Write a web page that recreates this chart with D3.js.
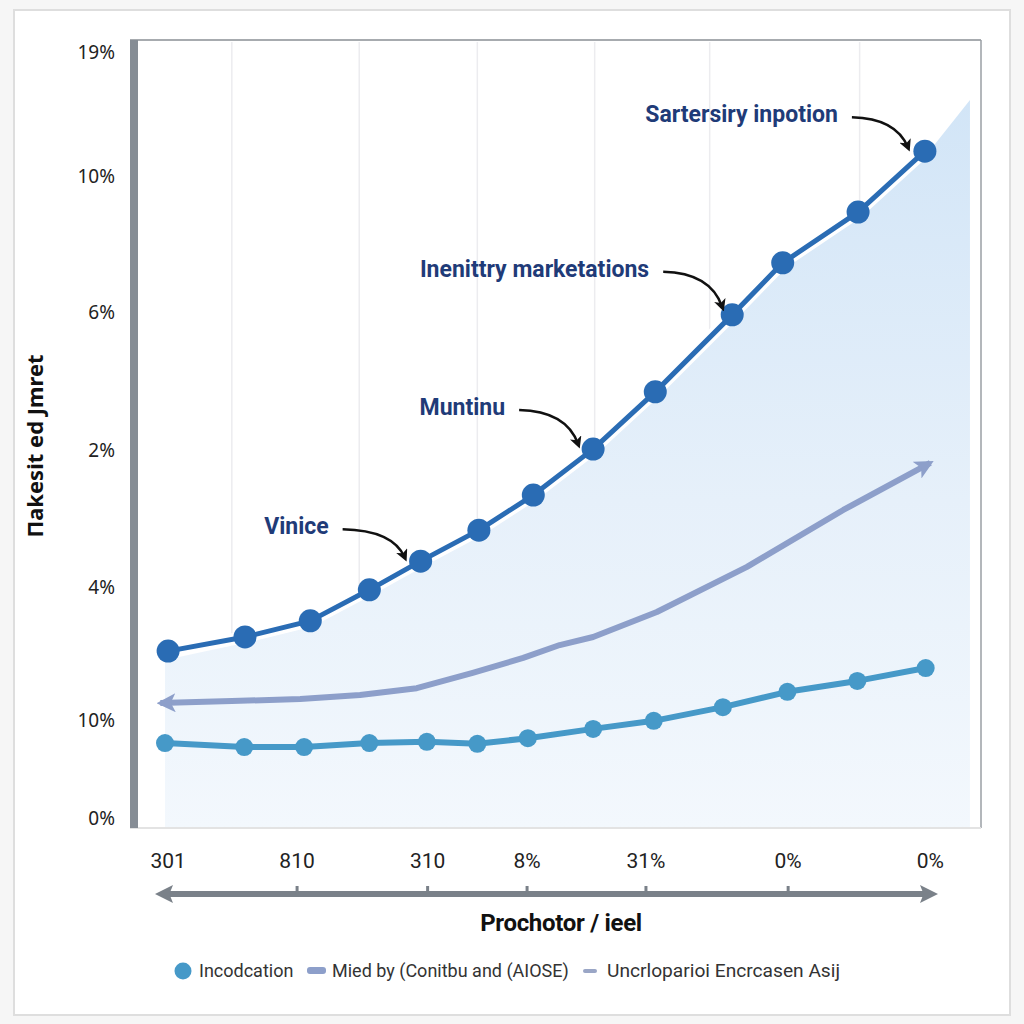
<!DOCTYPE html>
<html>
<head>
<meta charset="utf-8">
<script src="https://cdn.jsdelivr.net/npm/d3@7"></script>
<style>
  html, body { margin: 0; padding: 0; background: #f6f6f6; }
  svg { display: block; }
</style>
</head>
<body>
<svg id="chart" width="1024" height="1024"></svg>
<script>
// ---------- DATA ----------
const yTickValues = [0, 2.43, 5.73, 9.13, 12.55, 15.92, 19];
const yTickLabels = ["0%", "10%", "4%", "2%", "6%", "10%", "19%"];

const xTickValues = [1.3, 17.9, 34.7, 47.5, 62.8, 81.1, 99.4];
const xTickLabels = ["301", "810", "310", "8%", "31%", "0%", "0%"];
const xTickMarks  = [17.9, 34.7, 47.5, 62.8, 81.1];
const gridX = [9.5, 25.9, 41.1, 56.2, 71.0, 90.3];

// main series (dark blue, markers)
const mainX = [1.3, 11.2, 19.6, 27.2, 33.8, 41.3, 48.3, 56.0, 64.0, 73.9, 80.4, 90.1, 98.7];
const mainY = [4.14, 4.49, 4.89, 5.66, 6.37, 7.14, 8.01, 9.15, 10.57, 12.48, 13.77, 15.03, 16.54];
// shaded area under the main series
const areaX = [0.9, 11.2, 19.6, 27.2, 33.8, 41.3, 48.3, 56.0, 64.0, 73.9, 80.4, 90.1, 98.7, 104.5];
const areaY = [3.92, 4.35, 4.75, 5.52, 6.23, 7.0, 7.87, 9.01, 10.43, 12.34, 13.63, 14.89, 16.4, 17.81];

// second series (lavender arrow line)
const midX = [0.3, 9.5, 18.3, 26.0, 33.3, 40.5, 47.0, 51.7, 56.0, 64.2, 75.8, 88.2, 99.4];
const midY = [2.85, 2.90, 2.95, 3.05, 3.22, 3.60, 3.97, 4.29, 4.49, 5.11, 6.23, 7.64, 8.81];

// third series (teal, markers)
const lowX = [0.9, 11.1, 18.8, 27.2, 34.6, 41.1, 47.6, 56.0, 63.8, 72.7, 81.0, 90.0, 98.8];
const lowY = [1.86, 1.76, 1.76, 1.86, 1.89, 1.84, 1.98, 2.21, 2.41, 2.75, 3.13, 3.40, 3.72];

const annotationTexts = ["Sartersiry inpotion", "Inenittry marketations", "Muntinu", "Vinice"];
const annotationIndex = [12, 9, 7, 4];

const legendLabels = ["Incodcation", "Mied by (Conitbu and (AIOSE)", "Uncrloparioi Encrcasen Asij"];

const yTitle = "Пakesit ed Jmret";
const xTitle = "Prochotor / ieel";

// ---------- LAYOUT ----------
const svg = d3.select("#chart");
const C = { main: "#2a6cb4", mid: "#8d9fca", low: "#4699c8", navy: "#1f3b78" };

const frame = { left: 130, top: 40, right: 981, bottom: 828 };
const x = d3.scaleLinear().domain([0, 100]).range([158, 935]);
const y = d3.scaleLinear().domain([0, 19]).range([818, 52]);

const defs = svg.append("defs");
const grad = defs.append("linearGradient").attr("id", "areaGrad")
  .attr("x1", "0").attr("y1", "0").attr("x2", "0").attr("y2", "1");
grad.append("stop").attr("offset", "0%").attr("stop-color", "#d2e5f7");
grad.append("stop").attr("offset", "55%").attr("stop-color", "#e6f0fa");
grad.append("stop").attr("offset", "100%").attr("stop-color", "#f3f8fd");

function arrowMarker(id, color, size, refX) {
  defs.append("marker").attr("id", id)
    .attr("viewBox", "0 0 10 10").attr("refX", refX).attr("refY", 5)
    .attr("markerUnits", "userSpaceOnUse")
    .attr("markerWidth", size).attr("markerHeight", size)
    .attr("orient", "auto-start-reverse")
    .append("path").attr("d", "M0,0 L10,5 L0,10 L2.5,5 Z").attr("fill", color);
}
arrowMarker("midArrow", C.mid, 19, 8);
arrowMarker("blackArrow", "#111", 12, 6);
defs.append("marker").attr("id", "axisArrow")
  .attr("viewBox", "0 0 10 10").attr("refX", 5).attr("refY", 5)
  .attr("markerUnits", "userSpaceOnUse")
  .attr("markerWidth", 18).attr("markerHeight", 18)
  .attr("orient", "auto-start-reverse")
  .append("path").attr("d", "M0,0 L10,5 L0,10 L2,5 Z").attr("fill", "#7a8189");

// card
svg.append("rect").attr("x", 14).attr("y", 10).attr("width", 996).attr("height", 1005)
  .attr("fill", "#ffffff").attr("stroke", "#dedede").attr("stroke-width", 2);

// plot background
svg.append("rect").attr("x", frame.left).attr("y", frame.top)
  .attr("width", frame.right - frame.left).attr("height", frame.bottom - frame.top)
  .attr("fill", "#ffffff");

// gridlines
svg.append("g").selectAll("line").data(gridX).join("line")
  .attr("x1", d => x(d)).attr("x2", d => x(d))
  .attr("y1", frame.top + 2).attr("y2", frame.bottom)
  .attr("stroke", "#ececef").attr("stroke-width", 1.5);

// area
const areaPts = areaX.map((v, i) => [v, areaY[i]]);
svg.append("path").datum(areaPts)
  .attr("d", d3.area().x(d => x(d[0])).y0(frame.bottom).y1(d => y(d[1])))
  .attr("fill", "url(#areaGrad)");

// frame lines
svg.append("line").attr("x1", frame.left).attr("x2", frame.right)
  .attr("y1", frame.top).attr("y2", frame.top).attr("stroke", "#8a8f95").attr("stroke-width", 1.5);
svg.append("line").attr("x1", frame.right).attr("x2", frame.right)
  .attr("y1", frame.top).attr("y2", frame.bottom).attr("stroke", "#9a9fa5").attr("stroke-width", 1.5);
svg.append("line").attr("x1", frame.left).attr("x2", frame.right)
  .attr("y1", frame.bottom).attr("y2", frame.bottom).attr("stroke", "#e3e3e3").attr("stroke-width", 2);
svg.append("rect").attr("x", frame.left).attr("y", frame.top)
  .attr("width", 8).attr("height", frame.bottom - frame.top).attr("fill", "#868d95");

// y tick labels
svg.append("g").selectAll("text").data(yTickValues).join("text")
  .attr("x", 115).attr("y", d => y(d)).attr("dy", "0.36em")
  .attr("text-anchor", "end")
  .attr("font-family", "'Noto Sans', 'Open Sans', sans-serif")
  .attr("font-size", 19).attr("fill", "#222")
  .text((d, i) => yTickLabels[i]);

// y title
svg.append("text")
  .attr("transform", "translate(43,446) rotate(-90)")
  .attr("text-anchor", "middle")
  .attr("font-family", "'Noto Sans', 'Open Sans', sans-serif")
  .attr("font-weight", 700).attr("font-size", 22).attr("fill", "#111")
  .text(yTitle);

// lines
const line = d3.line().x(d => x(d[0])).y(d => y(d[1]));
const lowPts = lowX.map((v, i) => [v, lowY[i]]);
const midPts = midX.map((v, i) => [v, midY[i]]);
const mainPts = mainX.map((v, i) => [v, mainY[i]]);

svg.append("path").datum(lowPts).attr("d", line)
  .attr("fill", "none").attr("stroke", C.low).attr("stroke-width", 6)
  .attr("stroke-linejoin", "round");
svg.append("g").selectAll("circle").data(lowPts).join("circle")
  .attr("cx", d => x(d[0])).attr("cy", d => y(d[1])).attr("r", 9)
  .attr("fill", C.low);

svg.append("path").datum(midPts).attr("d", line)
  .attr("fill", "none").attr("stroke", C.mid).attr("stroke-width", 6)
  .attr("stroke-linejoin", "round")
  .attr("marker-start", "url(#midArrow)").attr("marker-end", "url(#midArrow)");

svg.append("path").datum(mainPts).attr("d", line)
  .attr("fill", "none").attr("stroke", "#ffffff").attr("stroke-width", 12)
  .attr("stroke-linejoin", "round");
svg.append("path").datum(mainPts).attr("d", line)
  .attr("fill", "none").attr("stroke", C.main).attr("stroke-width", 5)
  .attr("stroke-linejoin", "round");
svg.append("g").selectAll("circle").data(mainPts).join("circle")
  .attr("cx", d => x(d[0])).attr("cy", d => y(d[1])).attr("r", 11.5)
  .attr("fill", C.main);

// annotations
const annoLayout = [
  { sx: -73, sy: -34, ex: -17, ey: -4 },
  { sx: -69, sy: -43, ex: -10, ey: -8 },
  { sx: -74, sy: -39, ex: -15, ey: -5 },
  { sx: -78, sy: -32, ex: -16, ey: -4 }
];
annotationTexts.forEach((t, i) => {
  const p = mainPts[annotationIndex[i]];
  const px = x(p[0]), py = y(p[1]);
  const L = annoLayout[i];
  const s = [px + L.sx, py + L.sy], e = [px + L.ex, py + L.ey];
  const c = [e[0] - 12, s[1] + 1];
  svg.append("path")
    .attr("d", `M${s[0]},${s[1]} Q${c[0]},${c[1]} ${e[0]},${e[1]}`)
    .attr("fill", "none").attr("stroke", "#111").attr("stroke-width", 2.5)
    .attr("marker-end", "url(#blackArrow)");
  svg.append("text")
    .attr("x", s[0] - 14).attr("y", s[1] - 3).attr("dy", "0.35em")
    .attr("text-anchor", "end")
    .attr("font-family", "Roboto, 'Noto Sans', sans-serif")
    .attr("font-weight", 700).attr("font-size", 23).attr("fill", C.navy)
    .text(t);
});

// x axis: labels, arrow line, ticks
svg.append("g").selectAll("text").data(xTickValues).join("text")
  .attr("x", d => x(d)).attr("y", 861).attr("dy", "0.35em")
  .attr("text-anchor", "middle")
  .attr("font-family", "Roboto, 'Liberation Sans', sans-serif")
  .attr("font-size", 21).attr("fill", "#222")
  .text((d, i) => xTickLabels[i]);

svg.append("line").attr("x1", x(0) + 6).attr("x2", x(100) - 6)
  .attr("y1", 894).attr("y2", 894)
  .attr("stroke", "#7a8189").attr("stroke-width", 6)
  .attr("marker-start", "url(#axisArrow)").attr("marker-end", "url(#axisArrow)");
svg.append("g").selectAll("line").data(xTickMarks).join("line")
  .attr("x1", d => x(d)).attr("x2", d => x(d))
  .attr("y1", 886).attr("y2", 894)
  .attr("stroke", "#7a8189").attr("stroke-width", 3);

svg.append("text").attr("x", 561).attr("y", 923).attr("dy", "0.35em")
  .attr("text-anchor", "middle")
  .attr("font-family", "Roboto, 'Liberation Sans', sans-serif")
  .attr("font-weight", 700).attr("font-size", 24).attr("fill", "#111")
  .attr("letter-spacing", "-0.3")
  .text(xTitle);

// legend
const lg = svg.append("g").attr("font-family", "Roboto, 'Liberation Sans', sans-serif")
  .attr("font-size", 18).attr("fill", "#333");
lg.append("circle").attr("cx", 183).attr("cy", 971).attr("r", 8.5).attr("fill", C.low);
lg.append("text").attr("x", 199).attr("y", 971).attr("dy", "0.35em").text(legendLabels[0]);
lg.append("rect").attr("x", 307).attr("y", 967).attr("width", 19).attr("height", 7).attr("rx", 3).attr("fill", C.mid);
lg.append("text").attr("x", 332).attr("y", 971).attr("dy", "0.35em").text(legendLabels[1]);
lg.append("rect").attr("x", 583).attr("y", 969).attr("width", 14).attr("height", 4).attr("rx", 2).attr("fill", "#9aa6c6");
lg.append("text").attr("x", 607).attr("y", 971).attr("dy", "0.35em")
  .attr("textLength", 233).attr("lengthAdjust", "spacingAndGlyphs").text(legendLabels[2]);
</script>
</body>
</html>
